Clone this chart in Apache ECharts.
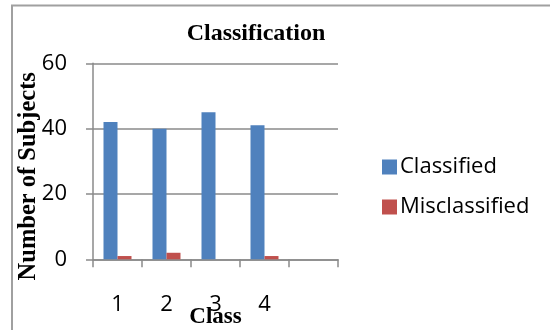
<!DOCTYPE html>
<html lang="en">
  <head>
    <meta charset="UTF-8" />
    <title>Classification</title>
    <script src="https://cdn.jsdelivr.net/npm/echarts@6/dist/echarts.min.js"></script>
    <style>
      html, body { margin: 0; padding: 0; background: #fff; }
    </style>
  </head>

  <body>
    <div id="main" style="width: 550px; height: 330px"></div>
    <script type="text/javascript">
      // chart data
      var classes = ["1", "2", "3", "4", ""];
      var classified = [42, 40, 45, 41];
      var misclassified = [1, 2, 0, 1];
      var yTicks = [0, 20, 40, 60];

      var gridColor = "#8a8a8a";
      var serif = "'Liberation Serif', 'Times New Roman', serif";
      var sans = "'Open Sans', Lato, sans-serif";

      function main() {
        var myChart = echarts.init(document.getElementById("main"));
        const option = {
          animation: false,
          title: {
            text: "Classification",
            left: 251,
            top: 17,
            textAlign: "center",
            textStyle: {
              fontFamily: serif,
              fontWeight: "bold",
              fontSize: 24,
              color: "#000",
            },
          },
          legend: {
            orient: "vertical",
            left: 377,
            top: 151,
            itemWidth: 15,
            itemHeight: 15,
            itemGap: 18,
            icon: "rect",
            textStyle: {
              fontFamily: sans,
              fontSize: 22,
              color: "#000",
              padding: [0, 0, 0, -2],
            },
            data: ["Classified", "Misclassified"],
          },
          graphic: [
            {
              type: "rect",
              shape: { x: 12, y: 5.5, width: 700, height: 500 },
              style: { fill: "none", stroke: "#a0a0a0", lineWidth: 2 },
              silent: true,
            },
          ],
          grid: {
            left: 93,
            right: 212,
            top: 63.3,
            bottom: 70.7,
            outerBoundsMode: "none",
            containLabel: false,
          },
          xAxis: {
            type: "category",
            data: classes,
            name: "Class",
            nameLocation: "middle",
            nameGap: 46,
            nameMoveOverlap: false,
            nameTextStyle: {
              fontFamily: serif,
              fontWeight: "bold",
              fontSize: 23,
              color: "#000",
            },
            axisLine: { lineStyle: { color: gridColor, width: 1.5 } },
            axisTick: { show: true, length: 8, lineStyle: { color: gridColor, width: 1.5 } },
            axisLabel: {
              margin: 34,
              fontFamily: sans,
              fontSize: 22,
              color: "#000",
            },
          },
          yAxis: {
            type: "value",
            min: yTicks[0],
            max: yTicks[yTicks.length - 1],
            interval: 20,
            name: "Number of Subjects",
            nameLocation: "middle",
            nameGap: 52,
            nameMoveOverlap: false,
            nameTextStyle: {
              fontFamily: serif,
              fontWeight: "bold",
              fontSize: 24.5,
              color: "#000",
              padding: [0, 30, 0, 0],
            },
            axisLine: { show: true, lineStyle: { color: gridColor, width: 1.5 } },
            axisTick: { show: true, length: 7, lineStyle: { color: gridColor, width: 1.5 } },
            splitLine: { lineStyle: { color: gridColor, width: 1.5 } },
            axisLabel: {
              margin: 26,
              fontFamily: sans,
              fontSize: 22,
              color: "#000",
            },
          },
          series: [
            {
              name: "Classified",
              type: "bar",
              data: classified,
              barWidth: 14,
              barGap: "0%",
              itemStyle: { color: "#4f81bd" },
            },
            {
              name: "Misclassified",
              type: "bar",
              data: misclassified,
              barWidth: 14,
              itemStyle: { color: "#c0504d" },
            },
          ],
        };
        myChart.setOption(option);
      }

      main();
    </script>
  </body>
</html>
